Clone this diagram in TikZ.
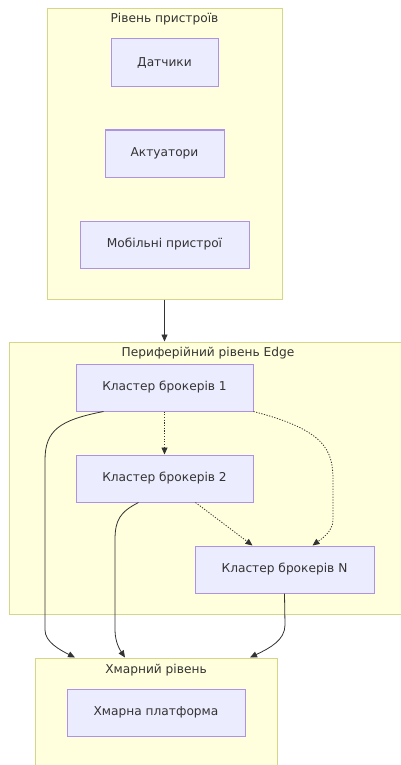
\documentclass[tikz,border=0pt]{standalone}
\usepackage{fontspec}
\setmainfont{DejaVu Sans}
\usetikzlibrary{arrows.meta,calc}
\definecolor{clfill}{HTML}{FFFFDE}
\definecolor{cldraw}{HTML}{D6D68A}
\definecolor{ndfill}{HTML}{ECECFF}
\definecolor{nddraw}{HTML}{AE92E6}
\definecolor{txt}{HTML}{333333}
\tikzset{
  cluster/.style={draw=cldraw, fill=clfill, line width=1pt, inner sep=0pt},
  box/.style={draw=nddraw, fill=ndfill, line width=1pt, inner sep=0pt, text=txt, font=\fontsize{12.2}{14}\selectfont},
  ttl/.style={text=txt, font=\fontsize{12.2}{14}\selectfont, inner sep=0pt},
  link/.style={draw=txt, line width=0.8pt, -{Triangle[length=7pt,width=6pt]}},
  dlink/.style={link, dash pattern=on 1.2pt off 1.5pt},
}
\begin{document}
\begin{tikzpicture}[x=1pt,y=-1pt]
\useasboundingbox (0,0) rectangle (401,765);
% clusters
\node[cluster, minimum width=235pt, minimum height=290pt] (dev) at (164.5,154) {};
\node[cluster, minimum width=392pt, minimum height=272pt] (edge) at (205.5,478) {};
\node[cluster, minimum width=242pt, minimum height=120pt] (cloud) at (156,718) {};
\node[ttl] (devt) at (164.5,19) {Рівень пристроїв};
\node[ttl] (edget) at (208,353) {Периферійний рівень Edge};
\node[ttl] (cloudt) at (156,670) {Хмарний рівень};
% nodes
\node[box, minimum width=107pt, minimum height=48pt] (d) at (164.5,63) {Датчики};
\node[box, minimum width=119pt, minimum height=47pt] (a) at (164.5,153.5) {Актуатори};
\node[box, minimum width=169pt, minimum height=47pt] (m) at (164.5,244.5) {Мобільні пристрої};
\node[box, minimum width=177pt, minimum height=47pt] (k1) at (164.5,387.5) {Кластер брокерів 1};
\node[box, minimum width=177pt, minimum height=47pt] (k2) at (164.5,478.5) {Кластер брокерів 2};
\node[box, minimum width=179pt, minimum height=47pt] (kn) at (284.5,569.5) {Кластер брокерів N};
\node[box, minimum width=178pt, minimum height=47pt] (h) at (156,712.5) {Хмарна платформа};
% connectors
\draw[link] (dev.south -| d.south) -- (edge.north -| d.south);
\draw[dlink] (k1.south) -- (k2.north);
\draw[dlink] (k1.south east) .. controls (325,430) and (333,450) .. (333,480) -- (333,520) .. controls (333,532) and (320,540) .. ($(kn.north)+(28,0)$);
\draw[dlink] ($(k2.south)+(31,0)$) -- ($(kn.north)+(-32,0)$);
\draw[link] ($(k1.south)+(-61,0)$) .. controls (60,420) and (45,430) .. (45,460) -- (45,630) .. controls (45,642) and (60,650) .. ($(cloud.north)+(-81,0)$);
\draw[link] ($(k2.south)+(-26,0)$) .. controls (120,512) and (115,520) .. (115,540) -- (115,630) .. controls (115,642) and (120,650) .. ($(cloud.north)+(-31,0)$);
\draw[link] (kn.south) -- (285,625) .. controls (285,640) and (270,648) .. ($(cloud.north)+(94,0)$);
\end{tikzpicture}
\end{document}
